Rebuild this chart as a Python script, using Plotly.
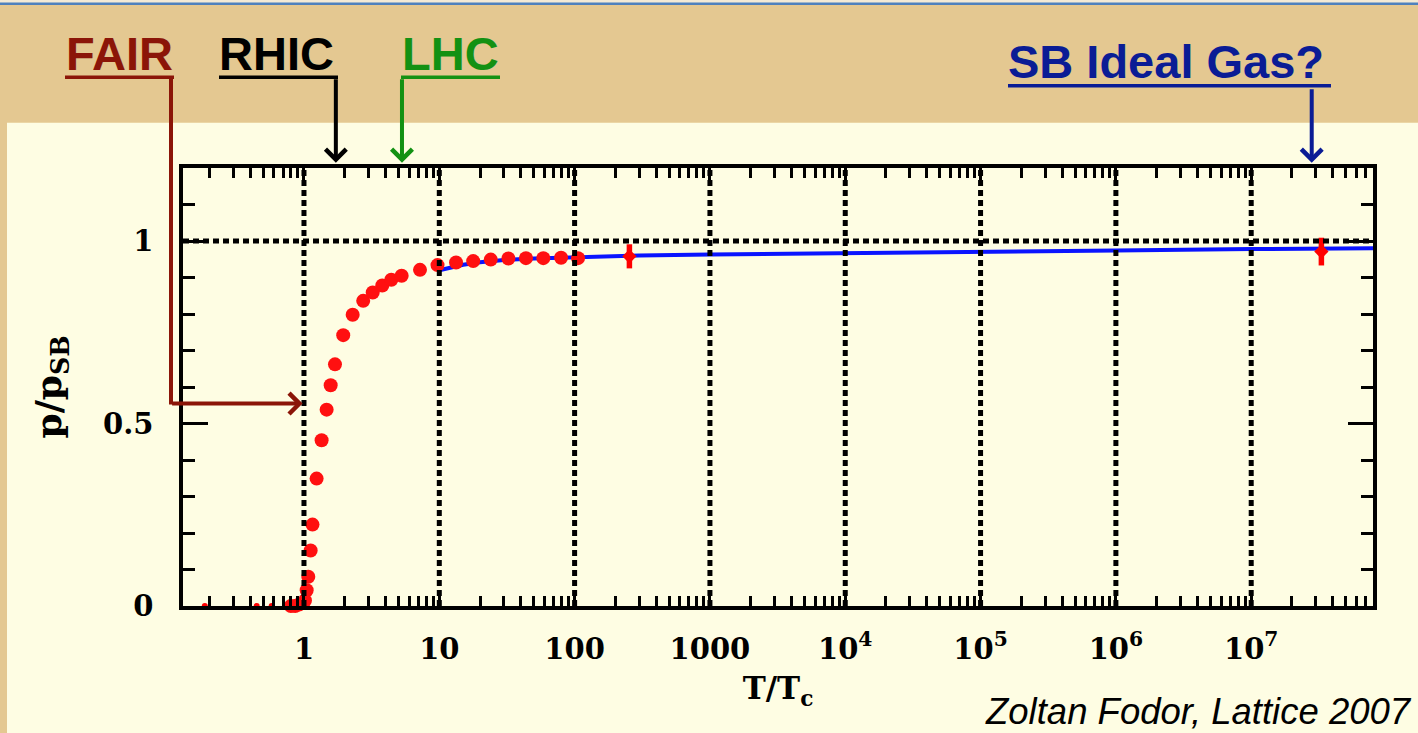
import math
import plotly.graph_objects as go

# Lattice QCD pressure, normalised to the Stefan-Boltzmann limit
T_lat = [0.80, 0.86, 0.92, 1.017, 1.047, 1.076, 1.12, 1.156, 1.24, 1.35, 1.47, 1.575,
         1.695, 1.95, 2.29, 2.74, 3.22, 3.79, 4.42, 5.27, 7.20, 9.7, 13.3, 17.8,
         24.0, 32.4, 43.7, 58.7, 79.4, 106.0]
p_lat = [0.0, 0.0, 0.004, 0.015, 0.043, 0.080, 0.152, 0.223, 0.349, 0.454, 0.538, 0.605,
         0.662, 0.742, 0.798, 0.836, 0.859, 0.878, 0.894, 0.905, 0.921, 0.934, 0.941, 0.945,
         0.949, 0.952, 0.953, 0.953, 0.954, 0.953]

# hadronic phase points, sitting on the axis
T_low = [0.185, 0.447, 0.577, 0.724]
p_low = [0.0, 0.0, 0.0, 0.0]

# high temperature points with errors
T_high = [254.0, 3.3e7]
p_high = [0.958, 0.971]
p_high_err = [0.033, 0.038]

# perturbative curve
T_pert = [10, 15, 20, 30, 50, 100, 300, 1e3, 1e4, 1e5, 1e6, 1e7, 8e7]
p_pert = [0.920, 0.935, 0.942, 0.948, 0.952, 0.956, 0.960, 0.963, 0.966, 0.970, 0.974, 0.978, 0.980]

# axis ticks
x_tickvals = [1, 10, 100, 1000, 1e4, 1e5, 1e6, 1e7]
x_ticktext = ["1", "10", "100", "1000", "10<sup>4</sup>", "10<sup>5</sup>", "10<sup>6</sup>", "10<sup>7</sup>"]
x_minor = [m * 10 ** k for k in range(-1, 8) for m in range(2, 10)]
y_tickvals = [0, 0.5, 1]
y_ticktext = ["0", "0.5", "1"]

# collider labels: text, colour, tip temperature
FAIR_COL = "#8b1508"
RHIC_COL = "#000000"
LHC_COL = "#139113"
SB_COL = "#0a1c95"
RHIC_T = 1.72
LHC_T = 5.3
SB_T = 2.8e7

W, H = 1418, 733
L, R, TOP, BOT = 183, 1373, 168.3, 606.5


def px(x):
    return (x - L) / (R - L)


def py(y):
    return (BOT - y) / (BOT - TOP)


SERIF = "DejaVu Serif"
SANS = "Liberation Sans"
CREAM = "#fefde3"
DOTS = dict(color="black", width=5, dash="6px,4px")

fig = go.Figure()

fig.add_trace(go.Scatter(x=T_pert, y=p_pert, mode="lines",
                         line=dict(color="#0a14ff", width=4), cliponaxis=True,
                         showlegend=False))
fig.add_trace(go.Scatter(x=T_low, y=p_low, mode="markers",
                         marker=dict(color="#ff0000", size=6), cliponaxis=True,
                         showlegend=False))
fig.add_trace(go.Scatter(x=T_lat, y=p_lat, mode="markers",
                         marker=dict(color="#ff1010", size=14), cliponaxis=False,
                         showlegend=False))
fig.add_trace(go.Scatter(x=T_high, y=p_high, mode="markers",
                         marker=dict(color="#ff0000", size=11, symbol="diamond"),
                         error_y=dict(type="data", array=p_high_err, color="#ff0000",
                                      thickness=5.5, width=0),
                         cliponaxis=False, showlegend=False))

shapes = []
# cream panel behind the plot
shapes.append(dict(type="rect", xref="paper", yref="paper", x0=px(7), x1=px(W + 5),
                   y0=py(H + 5), y1=py(123), fillcolor=CREAM, line=dict(width=0),
                   layer="below"))
# light strip and thin rule at the very top
shapes.append(dict(type="rect", xref="paper", yref="paper", x0=px(-5), x1=px(W + 5),
                   y0=py(4), y1=py(-5), fillcolor="#f3ead6", line=dict(width=0),
                   layer="below"))
shapes.append(dict(type="line", xref="paper", yref="paper", x0=px(0), x1=px(W),
                   y0=py(4), y1=py(4), line=dict(color="#4f81bd", width=2.5)))
# dotted decade grid and the p = p_SB line, drawn over the data
for v in x_tickvals:
    shapes.append(dict(type="line", xref="x", yref="paper", x0=v, x1=v,
                       y0=0, y1=1, line=DOTS, layer="above"))
shapes.append(dict(type="line", xref="paper", yref="y", x0=0, x1=1, y0=1, y1=1,
                   line=DOTS, layer="above"))

# underlines of the collider labels
for x0, x1, yy, col in [(65, 174, 77.5, FAIR_COL), (219, 338, 77.5, RHIC_COL),
                        (401, 500, 77.5, LHC_COL), (1008, 1331, 86, SB_COL)]:
    shapes.append(dict(type="line", xref="paper", yref="paper", x0=px(x0), x1=px(x1),
                       y0=py(yy), y1=py(yy), line=dict(color=col, width=3.5)))
# FAIR leader: vertical leg
shapes.append(dict(type="line", xref="paper", yref="paper", x0=px(171), x1=px(171),
                   y0=py(77), y1=py(405), line=dict(color=FAIR_COL, width=4)))

annotations = []
label_font = dict(family=SANS, size=47, weight="bold")
for text, xl, yb, col in [("FAIR", 64, 54, FAIR_COL), ("RHIC", 217, 54, RHIC_COL),
                          ("LHC", 400, 54, LHC_COL), ("SB Ideal Gas?", 1006, 62, SB_COL)]:
    annotations.append(dict(text=text, xref="paper", yref="paper", x=px(xl), y=py(yb),
                            xanchor="left", yanchor="middle", showarrow=False,
                            font=dict(label_font, color=col)))

# arrows pointing at the temperature axis
for t, col, tail in [(RHIC_T, RHIC_COL, 78), (LHC_T, LHC_COL, 78), (SB_T, SB_COL, 88)]:
    annotations.append(dict(text="", x=math.log10(t), xref="x", yref="paper", y=py(163),
                            ax=0, ay=-(163 - tail), showarrow=True, arrowhead=4,
                            arrowsize=1, arrowwidth=4, arrowcolor=col, standoff=0))
# FAIR arrow to T = Tc
annotations.append(dict(text="", x=math.log10(1.0) - 0.01, xref="x", yref="paper", y=py(404),
                        ax=-(303 - 171), ay=0, showarrow=True, arrowhead=4, arrowsize=1,
                        arrowwidth=4, arrowcolor=FAIR_COL, standoff=0))

annotations.append(dict(text="<i>Zoltan Fodor, Lattice 2007</i>", xref="paper", yref="paper",
                        x=px(1414), y=py(712), xanchor="right", yanchor="middle",
                        showarrow=False, font=dict(family=SANS, size=36.5, color="black")))

tick_font = dict(family=SERIF, size=29, color="black", weight="bold")

fig.update_layout(
    width=W, height=H,
    margin=dict(l=L, r=W - R, t=TOP, b=H - BOT),
    paper_bgcolor="#e4c891",
    plot_bgcolor=CREAM,
    shapes=shapes,
    annotations=annotations,
    xaxis=dict(type="log", range=[-0.894, 7.9], tickmode="array",
               tickvals=x_tickvals, ticktext=x_ticktext, showgrid=False, zeroline=False,
               ticks="inside", ticklen=12, tickwidth=3, tickcolor="black",
               showline=True, linecolor="black", linewidth=3.5, mirror="allticks",
               tickfont=tick_font, ticklabelstandoff=14,
               minor=dict(tickmode="array", tickvals=x_minor, ticks="inside", ticklen=10,
                          tickwidth=3, tickcolor="black", showgrid=False),
               title=dict(text="T/T<sub>c</sub>", font=dict(family=SERIF, size=31,
                                                           color="black", weight="bold"),
                          standoff=14)),
    yaxis=dict(range=[0, 1.2], tickmode="array", tickvals=y_tickvals, ticktext=y_ticktext,
               showgrid=False, zeroline=False, ticks="inside", ticklen=25, tickwidth=3,
               tickcolor="black", showline=True, linecolor="black", linewidth=3.5,
               mirror="allticks", tickfont=tick_font, ticklabelstandoff=20,
               minor=dict(dtick=0.1, tick0=0, ticks="inside", ticklen=12, tickwidth=3,
                          tickcolor="black", showgrid=False),
               title=dict(text="p/p<sub>SB</sub>", font=dict(family=SERIF, size=36,
                                                            color="black", weight="bold"),
                          standoff=31)),
)

fig.write_html("out.html")
